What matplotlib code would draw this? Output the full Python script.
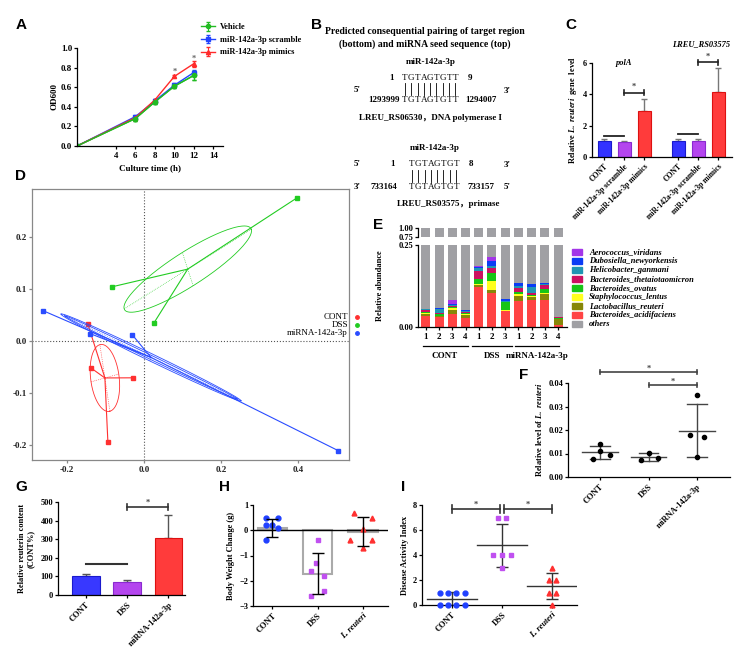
import numpy as np
import matplotlib
matplotlib.use('Agg')
import matplotlib.pyplot as plt
from matplotlib.lines import Line2D

plt.rcParams.update({'font.family': 'Liberation Serif', 'font.weight': 'bold', 'font.size': 6,
                     'axes.labelweight': 'bold', 'axes.linewidth': 0.9,
                     'xtick.major.width': 0.9, 'ytick.major.width': 0.9,
                     'xtick.major.size': 2.5, 'ytick.major.size': 2.5,
                     'xtick.major.pad': 1.5, 'ytick.major.pad': 1.0,
                     'mathtext.fontset': 'custom', 'mathtext.rm': 'Liberation Serif:bold',
                     'mathtext.it': 'Liberation Serif:italic:bold'})

# ---------------- data ----------------
# A: growth curve
time_h = [0, 6, 8, 10, 12]
od_vehicle = [0.0, 0.28, 0.45, 0.61, 0.72]
od_vehicle_sd = [0.0, 0.02, 0.02, 0.02, 0.05]
od_scramble = [0.0, 0.30, 0.46, 0.62, 0.75]
od_scramble_sd = [0.0, 0.02, 0.02, 0.02, 0.03]
od_mimics = [0.0, 0.29, 0.47, 0.71, 0.84]
od_mimics_sd = [0.0, 0.01, 0.01, 0.01, 0.03]
a_star_t = [10, 12]
a_star_y = [0.76, 0.89]

# B: seed pairing
seed1 = 'TGTAGTGTT'
seed2 = 'TGTAGTGT'

# C: qPCR of target genes
c_groups = ['CONT', 'miR-142a-3p scramble', 'miR-142a-3p mimics']
polA_mean = [1.0, 0.93, 2.93]
polA_sd = [0.15, 0.07, 0.75]
rs03575_mean = [1.0, 1.0, 4.15]
rs03575_sd = [0.17, 0.13, 1.55]

# D: PCoA
d_cont = [(-0.146, 0.032), (-0.138, -0.052), (-0.029, -0.071), (-0.094, -0.194)]
d_dss = [(0.397, 0.275), (-0.083, 0.104), (0.026, 0.035)]
d_mir = [(-0.262, 0.058), (-0.140, 0.014), (-0.031, 0.012), (0.504, -0.211)]
d_cont_axes = [(0.013, -0.064), (0.036, 0.0075)]
d_dss_axes = [(0.165, 0.0765), (-0.014, 0.032)]
d_mir_axes = [(0.234, -0.0835), (0.0025, 0.007)]

# E: relative abundance (bottom -> top)
e_species = ['Bacteroides_acidifaciens', 'Lactobacillus_reuteri', 'Staphylococcus_lentus',
             'Bacteroides_ovatus', 'Bacteroides_thetaiotaomicron', 'Helicobacter_ganmani',
             'Dubosiella_newyorkensis', 'Aerococcus_viridans']
e_samples = ['1', '2', '3', '4', '1', '2', '3', '1', '2', '3', '4']
e_acidifaciens = [0.035, 0.030, 0.040, 0.027, 0.121, 0.103, 0.048, 0.078, 0.081, 0.083, 0.007]
e_reuteri = [0.006, 0.004, 0.012, 0.009, 0.007, 0.009, 0.002, 0.015, 0.010, 0.018, 0.017]
e_lentus = [0.002, 0.001, 0.006, 0.005, 0.003, 0.027, 0.001, 0.008, 0.002, 0.002, 0.001]
e_ovatus = [0.004, 0.004, 0.004, 0.003, 0.015, 0.026, 0.024, 0.007, 0.006, 0.013, 0.003]
e_theta = [0.005, 0.005, 0.003, 0.003, 0.024, 0.016, 0.002, 0.012, 0.006, 0.012, 0.001]
e_ganmani = [0.002, 0.010, 0.002, 0.001, 0.011, 0.005, 0.002, 0.005, 0.018, 0.003, 0.0005]
e_newyork = [0.001, 0.003, 0.002, 0.003, 0.003, 0.014, 0.006, 0.008, 0.007, 0.002, 0.0005]
e_viridans = [0.001, 0.001, 0.014, 0.002, 0.002, 0.013, 0.0, 0.002, 0.001, 0.001, 0.0]

# F: L. reuteri level
f_groups = ['CONT', 'DSS', 'miRNA-142a-3p']
f_points = [[0.0142, 0.0110, 0.0093, 0.0078], [0.0103, 0.0072, 0.0079],
            [0.0350, 0.0180, 0.0170, 0.0085]]
f_mean = [0.0106, 0.0085, 0.0197]
f_sd = [0.0028, 0.0017, 0.0112]

# G: reuterin
g_groups = ['CONT', 'DSS', 'miRNA-142a-3p']
g_mean = [100, 70, 308]
g_sd = [15, 12, 122]

# H: body weight change
h_groups = ['CONT', 'DSS', 'L. reuteri']
h_points = [[0.5, 0.5, 0.2, 0.1, 0.2, -0.4], [-0.4, -1.3, -1.6, -1.8, -2.4, -2.6],
            [0.7, 0.5, 0.05, -0.4, -0.4, -0.7]]
h_mean = [0.1, -1.72, -0.05]
h_sd = [0.36, 0.8, 0.57]

# I: disease activity index
i_points = [[1, 1, 1, 1, 0, 0, 0, 0], [7, 7, 4, 4, 4, 3], [3, 2, 2, 1, 1, 0]]
i_mean = [0.5, 4.8, 1.5]
i_sd = [0.53, 1.72, 1.05]

# ---------------- layout helpers ----------------
W, H = 742, 647
fig = plt.figure(figsize=(W / 100, H / 100), dpi=100)


def box(l, t, r, b):
    return fig.add_axes([l / W, 1 - b / H, (r - l) / W, (b - t) / H])


def ftext(x, y, s, **kw):
    kw.setdefault('ha', 'center')
    kw.setdefault('va', 'center')
    fig.text(x / W, 1 - y / H, s, **kw)


def fline(xs, ys, **kw):
    fig.add_artist(Line2D([x / W for x in xs], [1 - y / H for y in ys],
                          transform=fig.transFigure, **kw))


def letter(x, y, s):
    ftext(x, y, s, family='Liberation Sans', weight='bold', fontsize=11)


def clean(ax):
    ax.spines['top'].set_visible(False)
    ax.spines['right'].set_visible(False)


def bracket(ax, x1, x2, y, h, star_y=None, color='#222222', lw=1.2):
    ax.plot([x1, x2], [y, y], color=color, lw=lw, clip_on=False)
    for x in (x1, x2):
        ax.plot([x, x], [y - h, y + h], color=color, lw=lw, clip_on=False)
    if star_y is not None:
        ax.text((x1 + x2) / 2, star_y, '*', ha='center', va='center', fontsize=6,
                color='#444444', clip_on=False)


def rotlabels(ax, labels, pos, fs=6, italic_last=False):
    ax.set_xticks(pos)
    ax.set_xticklabels(labels, rotation=45, ha='right', rotation_mode='anchor', fontsize=fs)
    if italic_last:
        ax.get_xticklabels()[-1].set_fontstyle('italic')


# ---------------- A ----------------
letter(21, 25, 'A')
ax = box(77, 48, 223, 146)
clean(ax)
for y, sd, c, m, lab in [(od_vehicle, od_vehicle_sd, '#22bb22', 'o', 'Vehicle'),
                         (od_scramble, od_scramble_sd, '#2244ff', 's', 'miR-142a-3p scramble'),
                         (od_mimics, od_mimics_sd, '#ff2a2a', '^', 'miR-142a-3p mimics')]:
    ax.errorbar(time_h, y, yerr=sd, color=c, marker=m, ms=3, lw=1.0, capsize=1.5,
                elinewidth=0.8, label=lab)
ax.errorbar(time_h, od_vehicle, yerr=od_vehicle_sd, color='#22bb22', marker='o', ms=3,
            lw=1.0, capsize=1.5, elinewidth=0.8)
for t, s in zip(a_star_t, a_star_y):
    ax.text(t, s, '*', ha='center', va='center', fontsize=6, color='#666666')
ax.set_xlim(0, 15)
ax.set_ylim(0, 1.0)
ax.set_xticks([4, 6, 8, 10, 12, 14])
ax.set_yticks([0, 0.2, 0.4, 0.6, 0.8, 1.0])
ax.set_yticklabels(['0.0', '0.2', '0.4', '0.6', '0.8', '1.0'])
ax.tick_params(labelsize=6.5)
ax.set_xlabel('Culture time (h)', fontsize=6.5, labelpad=3)
ax.set_ylabel('OD600', fontsize=6.5, labelpad=2)
ax.legend(loc='upper left', bbox_to_anchor=(198 / W, 1 - 20 / H),
          bbox_transform=fig.transFigure, frameon=False, fontsize=6,
          handlelength=1.6, labelspacing=0.55, borderaxespad=0, handletextpad=0.6)

# ---------------- B ----------------
letter(316, 25, 'B')
ftext(425, 31, 'Predicted consequential pairing of target region', fontsize=7)
ftext(425, 44, '(bottom) and miRNA seed sequence (top)', fontsize=7)
seq_kw = dict(family='Liberation Serif', weight='normal', fontsize=6.6)


def seq_row(x0, y, s):
    for k, ch in enumerate(s):
        ftext(x0 + k * 6.3, y, ch, **seq_kw)


def pipes(x0, y1, y2, n):
    for k in range(n):
        fline([x0 + k * 6.3] * 2, [y1, y2], color='black', lw=0.6)


ftext(431, 62, 'miR-142a-3p', fontsize=6.5)
ftext(392, 78, '1', fontsize=6.5)
seq_row(405, 78, seed1)
ftext(470, 78, '9', fontsize=6.5)
ftext(357, 90, "5'", fontsize=6.5)
ftext(507, 91, "3'", fontsize=6.5)
pipes(405, 83, 95, len(seed1))
ftext(384, 100, '1293999', fontsize=6.5)
seq_row(405, 100, seed1)
ftext(481, 100, '1294007', fontsize=6.5)
ftext(430, 118, 'LREU_RS06530，DNA polymerase I', fontsize=6.5,
      family=['Liberation Serif', 'Noto Sans CJK SC'])

ftext(435, 148, 'miR-142a-3p', fontsize=6.5)
ftext(357, 164, "5'", fontsize=6.5)
ftext(393, 164, '1', fontsize=6.5)
seq_row(412, 164, seed2)
ftext(471, 164, '8', fontsize=6.5)
ftext(507, 165, "3'", fontsize=6.5)
pipes(412, 170, 182, len(seed2))
ftext(357, 187, "3'", fontsize=6.5)
ftext(384, 187, '733164', fontsize=6.5)
seq_row(412, 187, seed2)
ftext(481, 187, '733157', fontsize=6.5)
ftext(507, 187, "5'", fontsize=6.5)
ftext(449, 204, 'LREU_RS03575，primase', fontsize=6.5,
      family=['Liberation Serif', 'Noto Sans CJK SC'])

# ---------------- C ----------------
letter(571, 25, 'C')
ax = box(592, 63, 732, 157)
clean(ax)
c_cols = ['#3333ff', '#b445ee', '#ff3b3b']
c_edges = ['#1a1acc', '#8a2ad0', '#dd1111']
pos1 = [0, 1, 2]
pos2 = [3.7, 4.7, 5.7]
for pos, mean, sd in [(pos1, polA_mean, polA_sd), (pos2, rs03575_mean, rs03575_sd)]:
    ax.bar(pos, mean, width=0.65, color=c_cols, edgecolor=c_edges, lw=0.8, zorder=2)
    ax.errorbar(pos, mean, yerr=[[0] * 3, sd], fmt='none', ecolor='#777777',
                elinewidth=1.0, capsize=2, zorder=1)
ax.plot([0, 1], [1.35, 1.35], color='#222222', lw=1.3)
ax.plot([3.7, 4.7], [1.45, 1.45], color='#222222', lw=1.3)
bracket(ax, 1, 2, 4.1, 0.15, 4.45)
bracket(ax, 4.7, 5.7, 6.05, 0.15, 6.4)
ax.text(1.0, 6.0, 'polA', fontsize=6, style='italic', ha='center', va='center')
ax.text(4.85, 7.2, 'LREU_RS03575', fontsize=6, style='italic', ha='center', va='center',
        clip_on=False)
ax.set_xlim(-0.6, 6.4)
ax.set_ylim(0, 6)
ax.set_yticks([0, 2, 4, 6])
ax.tick_params(labelsize=6)
rotlabels(ax, c_groups * 2, pos1 + pos2, fs=5.5)
ax.set_ylabel(r'Relative $\mathit{L.\ reuteri}$  gene  level', fontsize=6, labelpad=3)

# ---------------- D ----------------
letter(21, 176, 'D')
ax = box(32, 189, 349, 460)
for s in ax.spines.values():
    s.set_color('#888888')
ax.axhline(0, color='#555555', ls=':', lw=0.8)
ax.axvline(0, color='#555555', ls=':', lw=0.8)
tt = np.linspace(0, 2 * np.pi, 240)
for pts, axes_v, col in [(d_cont, d_cont_axes, '#ff3030'), (d_dss, d_dss_axes, '#22cc22'),
                         (d_mir, d_mir_axes, '#2a4cff')]:
    p = np.array(pts)
    cen = p.mean(axis=0)
    for q in p:
        ax.plot([cen[0], q[0]], [cen[1], q[1]], color=col, lw=0.8)
    ax.plot(p[:, 0], p[:, 1], 's', color=col, ms=2.6)
    u, v = np.array(axes_v[0]), np.array(axes_v[1])
    scales = [1.0] if col != '#2a4cff' else [1.0, 0.55]
    for k in scales:
        e = cen[:, None] + np.outer(u * (1.0 if k == 1.0 else 0.96), np.cos(tt)) + np.outer(v * k, np.sin(tt))
        ax.plot(e[0], e[1], color=col, lw=0.6)
    for vec in (u, v):
        ax.plot([cen[0] - vec[0], cen[0] + vec[0]], [cen[1] - vec[1], cen[1] + vec[1]],
                color=col, lw=0.5, ls=':')
ax.set_xlim(-0.291, 0.532)
ax.set_ylim(-0.229, 0.292)
ax.set_xticks([-0.2, 0.0, 0.2, 0.4])
ax.set_yticks([-0.2, -0.1, 0.0, 0.1, 0.2])
ax.set_xticklabels(['-0.2', '0.0', '0.2', '0.4'])
ax.set_yticklabels(['-0.2', '-0.1', '0.0', '0.1', '0.2'])
ax.tick_params(labelsize=6.5, colors='#222222', color='#888888')
for lab, y, col in [('CONT', 317, '#ff3030'), ('DSS', 325, '#22cc22'),
                    ('miRNA-142a-3p', 333, '#2a4cff')]:
    ftext(348, y, lab, ha='right', fontsize=6.5, weight='normal')
    fline([357], [y], marker='o', ms=2.5, color=col)

# ---------------- E ----------------
letter(378, 225, 'E')
e_cols = ['#ff4444', '#878708', '#ffff1e', '#16c516', '#cc1060', '#1f95b3', '#0a3cf5',
          '#a335e8', '#a0a0a4']
stack = [e_acidifaciens, e_reuteri, e_lentus, e_ovatus, e_theta, e_ganmani, e_newyork,
         e_viridans]
xs = np.arange(len(e_samples))
axl = box(418, 245, 567, 327)
axu = box(418, 228, 567, 237)
bottom = np.zeros(len(xs))
for vals, col in zip(stack, e_cols):
    axl.bar(xs, vals, bottom=bottom, width=0.68, color=col, lw=0)
    bottom = bottom + np.array(vals)
others = 1 - bottom
axl.bar(xs, others, bottom=bottom, width=0.68, color=e_cols[-1], lw=0)
axu.bar(xs, others, bottom=bottom, width=0.68, color=e_cols[-1], lw=0)
for a in (axl, axu):
    a.set_xlim(-0.6, 10.68)
    clean(a)
    a.tick_params(labelsize=6)
axl.set_ylim(0, 0.25)
axl.set_yticks([0, 0.25])
axl.set_yticklabels(['0.00', '0.25'])
axl.set_xticks(xs)
axl.set_xticklabels(e_samples, fontsize=6.5)
axu.set_ylim(0.75, 1.0)
axu.set_yticks([0.75, 1.0])
axu.set_yticklabels(['0.75', '1.00'])
axu.spines['bottom'].set_visible(False)
axu.set_xticks([])
axl.set_ylabel('Relative abundance', fontsize=6, labelpad=10)
tr = axl.get_xaxis_transform()
for x1, x2, lab in [(-0.25, 3.15, 'CONT'), (3.5, 6.55, 'DSS'), (6.75, 10.1, 'miRNA-142a-3p')]:
    axl.plot([x1, x2], [-0.232, -0.232], color='black', lw=0.9, transform=tr, clip_on=False)
    axl.text((x1 + x2) / 2, -0.35, lab, ha='center', va='center', fontsize=6.5, transform=tr)
e_names = e_species[::-1] + ['others']
e_lcols = e_cols[:8][::-1] + [e_cols[-1]]
for k, (nm, col) in enumerate(zip(e_names, e_lcols)):
    y = 252 + k * 9
    fig.patches.append(plt.Rectangle((572 / W, 1 - (y + 3) / H), 10 / W, 6 / H, color=col,
                                     transform=fig.transFigure))
    ftext(589, y, nm, ha='left', fontsize=6, style='italic')

# ---------------- F ----------------
letter(524, 375, 'F')
ax = box(568, 383, 730, 477)
clean(ax)
f_off = [[0, 0, 0.2, -0.15], [0, -0.15, 0.2], [0, -0.15, 0.15, 0]]
for i, (pts, offs) in enumerate(zip(f_points, f_off)):
    ax.plot(np.array(offs) + i, pts, 'o', color='black', ms=3, zorder=3)
    ax.plot([i - 0.37, i + 0.37], [f_mean[i]] * 2, color='#444444', lw=1.0)
    ax.plot([i - 0.2, i + 0.2], [f_mean[i] + f_sd[i]] * 2, color='#444444', lw=1.0)
    ax.plot([i - 0.2, i + 0.2], [f_mean[i] - f_sd[i]] * 2, color='#444444', lw=1.0)
    ax.plot([i, i], [f_mean[i] - f_sd[i], f_mean[i] + f_sd[i]], color='#444444', lw=1.0)
bracket(ax, 0, 2, 0.0447, 0.0008, 0.0462, color='#444444')
bracket(ax, 1, 2, 0.0390, 0.0008, 0.0405, color='#444444')
ax.set_xlim(-0.66, 2.68)
ax.set_ylim(0, 0.04)
ax.set_yticks([0, 0.01, 0.02, 0.03, 0.04])
ax.set_yticklabels(['0.00', '0.01', '0.02', '0.03', '0.04'])
ax.tick_params(labelsize=6)
rotlabels(ax, f_groups, [0, 1, 2], fs=6)
ax.set_ylabel(r'Relative level of $\mathit{L.\ reuteri}$', fontsize=6, labelpad=3)

# ---------------- G ----------------
letter(21, 487, 'G')
ax = box(58, 502, 185, 595)
clean(ax)
ax.bar([0, 1, 2], g_mean, width=0.66, color=['#3838ff', '#b445ee', '#ff3b3b'],
       edgecolor=['#1a1acc', '#8a2ad0', '#dd1111'], lw=0.8, zorder=2)
ax.errorbar([0, 1, 2], g_mean, yerr=[[0] * 3, g_sd], fmt='none', ecolor='#555555',
            elinewidth=1.0, capsize=3, zorder=1)
ax.plot([0, 1], [167, 167], color='#333333', lw=1.5)
bracket(ax, 1, 2, 473, 18, 497, color='#333333')
ax.set_xlim(-0.68, 2.41)
ax.set_ylim(0, 500)
ax.set_yticks([0, 100, 200, 300, 400, 500])
ax.tick_params(labelsize=6)
rotlabels(ax, g_groups, [0, 1, 2], fs=6)
ax.set_ylabel('Relative reuterin content\n(CONT%)', fontsize=6, labelpad=4)

# ---------------- H ----------------
letter(225, 487, 'H')
ax = box(253, 505, 388, 606)
clean(ax)
h_cols = ['#2040ff', '#c050f0', '#ff3030']
h_mk = ['o', 's', '^']
h_off = [[-0.13, 0.13, -0.13, 0.13, 0.0, -0.13], [0, -0.04, -0.15, 0.15, 0.15, -0.15],
         [-0.2, 0.2, 0, -0.28, 0.2, 0]]
ax.bar([0, 1, 2], h_mean, width=0.64, facecolor='none', edgecolor='#aaaaaa', lw=1.5, zorder=1)
ax.axhline(0, color='black', lw=1.0, zorder=2)
for i in range(3):
    ax.plot(np.array(h_off[i]) + i, h_points[i], h_mk[i], color=h_cols[i], ms=3.5, zorder=3)
    ax.errorbar(i, h_mean[i], yerr=h_sd[i], fmt='none', ecolor='black', elinewidth=1.0,
                capsize=4, zorder=4)
ax.set_xlim(-0.42, 2.55)
ax.set_ylim(-3, 1)
ax.set_yticks([-3, -2, -1, 0, 1])
ax.tick_params(labelsize=6)
rotlabels(ax, h_groups, [0, 1, 2], fs=6, italic_last=True)
ax.set_ylabel('Body Weight Change (g)', fontsize=6, labelpad=3)

# ---------------- I ----------------
letter(403, 487, 'I')
ax = box(422, 505, 577, 605)
clean(ax)
i_off = [[-0.25, -0.08, 0.08, 0.25, -0.25, -0.08, 0.08, 0.25], [-0.08, 0.08, -0.18, 0, 0.18, 0],
         [0, -0.07, 0.07, -0.07, 0.07, 0]]
for i in range(3):
    ax.plot(np.array(i_off[i]) + i, i_points[i], h_mk[i], color=h_cols[i], ms=3.5, zorder=3,
            clip_on=False)
    ax.plot([i - 0.5, i + 0.5], [i_mean[i]] * 2, color='#333333', lw=1.0, zorder=2)
    ax.errorbar(i, i_mean[i], yerr=i_sd[i], fmt='none', ecolor='#333333', elinewidth=1.0,
                capsize=4, zorder=2)
bracket(ax, 0, 0.96, 7.7, 0.3, 8.05, color='#333333')
bracket(ax, 1.04, 2, 7.7, 0.3, 8.05, color='#333333')
ax.set_xlim(-0.6, 2.5)
ax.set_ylim(0, 8)
ax.set_yticks([0, 2, 4, 6, 8])
ax.tick_params(labelsize=6)
rotlabels(ax, h_groups, [0, 1, 2], fs=6, italic_last=True)
ax.set_ylabel('Disease Activity Index', fontsize=6, labelpad=3)

fig.savefig('out.png', dpi=100)
